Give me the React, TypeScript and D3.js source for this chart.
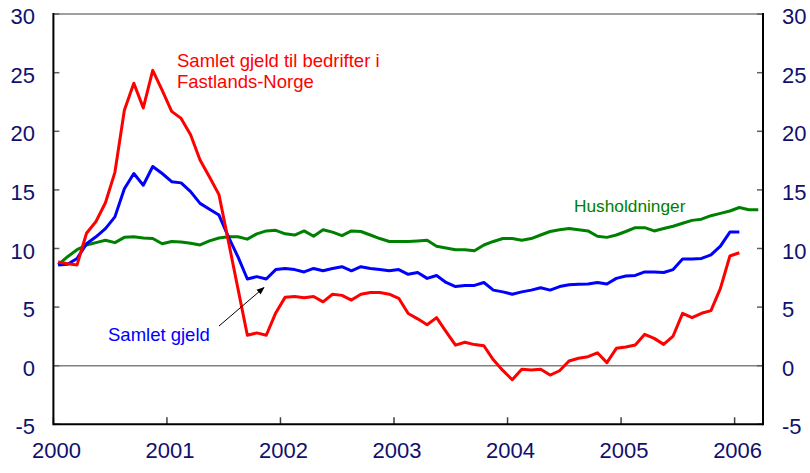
import * as d3 from "d3";

// monthly observations, Jan 2000 onwards (12-month growth, per cent)
const years = ["2000", "2001", "2002", "2003", "2004", "2005", "2006"];
const yTicks = [-5, 0, 5, 10, 15, 20, 25, 30];

const bedrifter = [
  8.85, 8.7, 8.6, 11.3, 12.3, 13.9, 16.5, 21.8, 24.1, 22.0, 25.2, 23.5,
  21.7, 21.1, 19.7, 17.55, 16.1, 14.6, 10.6, 6.6, 2.6, 2.8, 2.6, 4.5,
  5.85, 5.9, 5.8, 5.9, 5.45, 6.1, 6.0, 5.6, 6.1, 6.25, 6.25, 6.1,
  5.75, 4.45, 4.0, 3.5, 4.1, 2.9, 1.75, 2.0, 1.8, 1.7, 0.5, -0.4,
  -1.2, -0.3, -0.37, -0.3, -0.8, -0.43, 0.4, 0.63, 0.77, 1.1, 0.26, 1.48,
  1.6, 1.77, 2.68, 2.33, 1.82, 2.53, 4.47, 4.1, 4.47, 4.7, 6.6, 9.36,
  9.64,
];

const samlet = [
  8.6, 8.65, 9.15, 10.4, 11.0, 11.7, 12.7, 15.1, 16.4, 15.4, 17.0, 16.4,
  15.7, 15.6, 14.85, 13.85, 13.35, 12.85, 11.0, 9.3, 7.4, 7.6, 7.4, 8.2,
  8.3, 8.2, 8.0, 8.3, 8.1, 8.3, 8.45, 8.1, 8.45, 8.3, 8.2, 8.1,
  8.2, 7.8, 7.95, 7.45, 7.7, 7.1, 6.75, 6.85, 6.85, 7.1, 6.45, 6.3,
  6.1, 6.3, 6.45, 6.65, 6.45, 6.75, 6.9, 6.95, 6.97, 7.1, 6.97, 7.45,
  7.65, 7.7, 8.0, 8.0, 7.95, 8.2, 9.1, 9.1, 9.15, 9.45, 10.2, 11.4,
  11.4,
];

const husholdninger = [
  8.6, 9.3, 9.9, 10.3, 10.5, 10.7, 10.5, 10.95, 11.0, 10.9, 10.85, 10.4,
  10.6, 10.55, 10.45, 10.3, 10.65, 10.9, 11.0, 11.0, 10.8, 11.25, 11.5, 11.55,
  11.25, 11.15, 11.5, 11.05, 11.6, 11.4, 11.1, 11.5, 11.45, 11.15, 10.85, 10.6,
  10.6, 10.6, 10.65, 10.7, 10.2, 10.05, 9.9, 9.9, 9.8, 10.3, 10.6, 10.85,
  10.85, 10.7, 10.85, 11.15, 11.45, 11.6, 11.7, 11.6, 11.5, 11.05, 10.95, 11.15,
  11.45, 11.78, 11.78, 11.5, 11.7, 11.9, 12.15, 12.4, 12.5, 12.8, 13.0, 13.2,
  13.5, 13.3, 13.3,
];

const W = 810;
const H = 473;
const left = 53.4;
const right = 763;
const top = 14.1;
const bottom = 424.3;

const font = "'Liberation Sans', Arial, sans-serif";
const navy = "#10106e";

export default function App() {
  const x = d3.scaleLinear().domain([0, 75]).range([left, right]);
  const y = d3.scaleLinear().domain([-5, 30]).range([bottom, top]);

  const line = d3
    .line<number>()
    .x((_, i) => x(i + 0.5))
    .y((d) => y(d));

  const series = [
    { data: husholdninger, color: "#008000" },
    { data: samlet, color: "#0000ff" },
    { data: bedrifter, color: "#ff0000" },
  ];

  return (
    <svg
      width={W}
      height={H}
      style={{ position: "absolute", left: 0, top: 0, background: "#fff" }}
    >
      <defs>
        <marker
          id="arr"
          viewBox="0 0 10 10"
          refX="9"
          refY="5"
          markerWidth="8"
          markerHeight="8"
          orient="auto"
        >
          <path d="M0,1 L10,5 L0,9 z" fill="#000" />
        </marker>
      </defs>

      {/* frame */}
      <line x1={left} x2={right} y1={top} y2={top} stroke="#808080" strokeWidth={1.5} />
      <line x1={left} x2={right} y1={y(0)} y2={y(0)} stroke="#808080" strokeWidth={1.5} />

      {yTicks.map((t) => (
        <g key={t}>
          <line x1={left} x2={left + 6} y1={y(t)} y2={y(t)} stroke="#606060" strokeWidth={1.5} />
          <line x1={right - 6} x2={right} y1={y(t)} y2={y(t)} stroke="#606060" strokeWidth={1.5} />
          <text
            x={35}
            y={y(t) + 10}
            textAnchor="end"
            fontFamily={font}
            fontSize={22}
            fill={navy}
          >
            {t}
          </text>
          <text x={782} y={y(t) + 10} fontFamily={font} fontSize={22} fill={navy}>
            {t}
          </text>
        </g>
      ))}

      {years.map((yr, i) => (
        <g key={yr}>
          <line
            x1={x(i * 12)}
            x2={x(i * 12)}
            y1={bottom}
            y2={bottom - 7}
            stroke="#404040"
            strokeWidth={1.5}
          />
          <text
            x={x(i * 12) + 3}
            y={458}
            textAnchor="middle"
            fontFamily={font}
            fontSize={22}
            fill={navy}
          >
            {yr}
          </text>
        </g>
      ))}

      {series.map((s) => (
        <path
          key={s.color}
          d={line(s.data) ?? ""}
          fill="none"
          stroke={s.color}
          strokeWidth={3}
          strokeLinejoin="round"
        />
      ))}

      <line x1={left} x2={left} y1={top - 1} y2={bottom + 1} stroke="#000" strokeWidth={2} />
      <line x1={right} x2={right} y1={top - 1} y2={bottom + 1} stroke="#000" strokeWidth={2} />
      <line x1={left} x2={right} y1={bottom} y2={bottom} stroke="#000" strokeWidth={2} />

      {/* annotations */}
      <text fontFamily={font} fontSize={18.5} fill="#ff0000">
        <tspan x={177} y={66.7}>Samlet gjeld til bedrifter i</tspan>
        <tspan x={177} y={88.3}>Fastlands-Norge</tspan>
      </text>
      <text x={108} y={340.5} fontFamily={font} fontSize={18.5} fill="#0000ff">
        Samlet gjeld
      </text>
      <text x={574} y={211.7} fontFamily={font} fontSize={17.3} fill="#008000">
        Husholdninger
      </text>
      <line
        x1={219}
        y1={326}
        x2={264}
        y2={287.5}
        stroke="#000"
        strokeWidth={1}
        markerEnd="url(#arr)"
      />
    </svg>
  );
}
